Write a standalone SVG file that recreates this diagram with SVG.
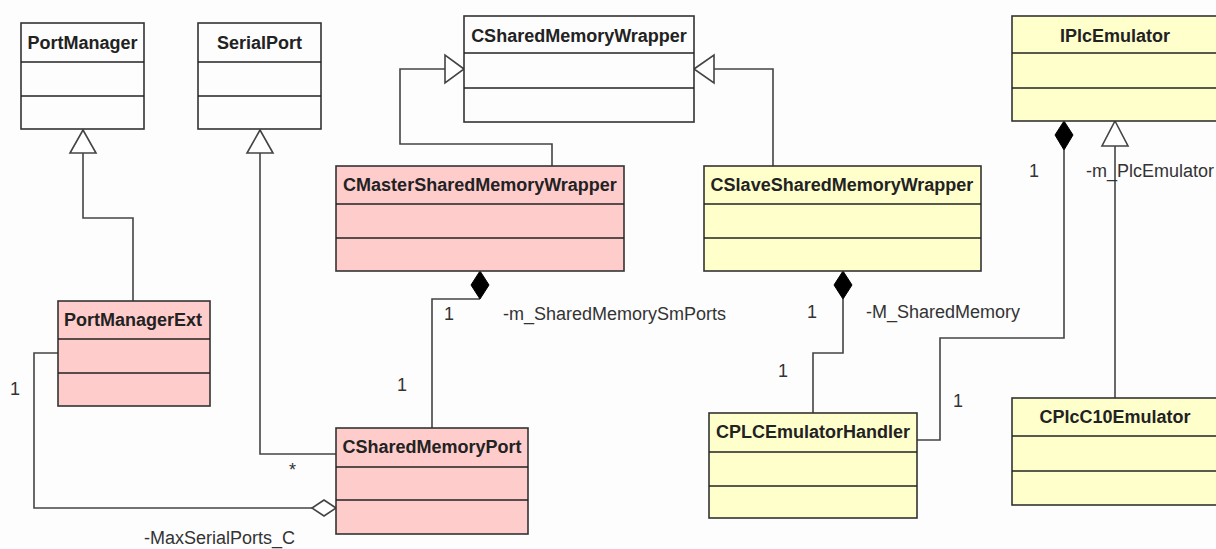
<svg xmlns="http://www.w3.org/2000/svg" width="1216" height="549" viewBox="0 0 1216 549">
<style>
.box{stroke:#333;stroke-width:1.6}
.plain{fill:#fdfdfd}
.pink{fill:#ffcccc}
.yellow{fill:#ffffcc}
.div{stroke:#222;stroke-width:1.4}
.name{font-family:"Liberation Sans",Arial,sans-serif;font-size:18px;font-weight:bold;fill:#222;text-anchor:middle}
.lbl{font-family:"Liberation Sans",Arial,sans-serif;font-size:18px;fill:#333}
.ln{fill:none;stroke:#444;stroke-width:1.6}
.tri{fill:#fff;stroke:#444;stroke-width:1.6}
.dia{fill:#000;stroke:#000;stroke-width:1}
.odia{fill:#fff;stroke:#444;stroke-width:1.6}
</style>
<rect width="1216" height="549" fill="#fdfdfd"/>
<g id="connectors">
<path class="ln" d="M83,153 V218 H133 V301"/>
<polygon class="tri" points="83,130 96,153 70,153"/>
<path class="ln" d="M260,153 V454 H336"/>
<polygon class="tri" points="260,130 273,153 247,153"/>
<path class="ln" d="M552,166 V144 H400 V69 H445"/>
<polygon class="tri" points="464,69 445,55 445,83"/>
<path class="ln" d="M773,166 V69 H714"/>
<polygon class="tri" points="694,69 714,55 714,83"/>
<path class="ln" d="M480,299 H432 V428"/>
<polygon class="dia" points="480,271 489,285 480,299 471,285"/>
<path class="ln" d="M843,299 V353 H813 V413"/>
<polygon class="dia" points="843,271 852,285 843,299 834,285"/>
<path class="ln" d="M1064,150 V338 H940 V440 H917"/>
<polygon class="dia" points="1064,121 1073,135 1064,150 1055,135"/>
<path class="ln" d="M1115,146 V398"/>
<polygon class="tri" points="1115,121 1128,146 1102,146"/>
<path class="ln" d="M58,353 H34 V508 H312"/>
<polygon class="odia" points="336,508 324,500 312,508 324,516"/>
<text class="lbl" x="10" y="395">1</text>
<text class="lbl" x="289" y="476">*</text>
<text class="lbl" x="144" y="544">-MaxSerialPorts_C</text>
<text class="lbl" x="444" y="320">1</text>
<text class="lbl" x="503" y="320">-m_SharedMemorySmPorts</text>
<text class="lbl" x="397" y="391">1</text>
<text class="lbl" x="807" y="318">1</text>
<text class="lbl" x="866" y="318">-M_SharedMemory</text>
<text class="lbl" x="778" y="377">1</text>
<text class="lbl" x="953" y="407">1</text>
<text class="lbl" x="1029" y="177">1</text>
<text class="lbl" x="1086" y="177">-m_PlcEmulator</text>
</g>
<g id="PortManager">
<rect class="box plain" x="21" y="23" width="123" height="106"/>
<line class="div" x1="21" y1="62" x2="144" y2="62"/>
<line class="div" x1="21" y1="96" x2="144" y2="96"/>
<text class="name" x="82.5" y="49">PortManager</text>
</g>
<g id="SerialPort">
<rect class="box plain" x="198" y="23" width="123" height="106"/>
<line class="div" x1="198" y1="62" x2="321" y2="62"/>
<line class="div" x1="198" y1="96" x2="321" y2="96"/>
<text class="name" x="259.5" y="49">SerialPort</text>
</g>
<g id="CSharedMemoryWrapper">
<rect class="box plain" x="464" y="16" width="230" height="106"/>
<line class="div" x1="464" y1="53" x2="694" y2="53"/>
<line class="div" x1="464" y1="88" x2="694" y2="88"/>
<text class="name" x="579" y="42">CSharedMemoryWrapper</text>
</g>
<g id="IPlcEmulator">
<rect class="box yellow" x="1012" y="16" width="208" height="105"/>
<line class="div" x1="1012" y1="53" x2="1220" y2="53"/>
<line class="div" x1="1012" y1="88" x2="1220" y2="88"/>
<text class="name" x="1115" y="42">IPlcEmulator</text>
</g>
<g id="CMasterSharedMemoryWrapper">
<rect class="box pink" x="336" y="166" width="288" height="105"/>
<line class="div" x1="336" y1="204" x2="624" y2="204"/>
<line class="div" x1="336" y1="238" x2="624" y2="238"/>
<text class="name" x="480" y="191">CMasterSharedMemoryWrapper</text>
</g>
<g id="CSlaveSharedMemoryWrapper">
<rect class="box yellow" x="704" y="166" width="277" height="105"/>
<line class="div" x1="704" y1="204" x2="981" y2="204"/>
<line class="div" x1="704" y1="238" x2="981" y2="238"/>
<text class="name" x="842" y="191">CSlaveSharedMemoryWrapper</text>
</g>
<g id="PortManagerExt">
<rect class="box pink" x="58" y="301" width="152" height="105"/>
<line class="div" x1="58" y1="339" x2="210" y2="339"/>
<line class="div" x1="58" y1="373" x2="210" y2="373"/>
<text class="name" x="133" y="326">PortManagerExt</text>
</g>
<g id="CSharedMemoryPort">
<rect class="box pink" x="336" y="428" width="192" height="106"/>
<line class="div" x1="336" y1="467" x2="528" y2="467"/>
<line class="div" x1="336" y1="500" x2="528" y2="500"/>
<text class="name" x="432" y="453">CSharedMemoryPort</text>
</g>
<g id="CPLCEmulatorHandler">
<rect class="box yellow" x="709" y="413" width="208" height="105"/>
<line class="div" x1="709" y1="452" x2="917" y2="452"/>
<line class="div" x1="709" y1="486" x2="917" y2="486"/>
<text class="name" x="813" y="438">CPLCEmulatorHandler</text>
</g>
<g id="CPlcC10Emulator">
<rect class="box yellow" x="1012" y="398" width="208" height="107"/>
<line class="div" x1="1012" y1="436" x2="1220" y2="436"/>
<line class="div" x1="1012" y1="471" x2="1220" y2="471"/>
<text class="name" x="1115" y="423">CPlcC10Emulator</text>
</g>
</svg>
